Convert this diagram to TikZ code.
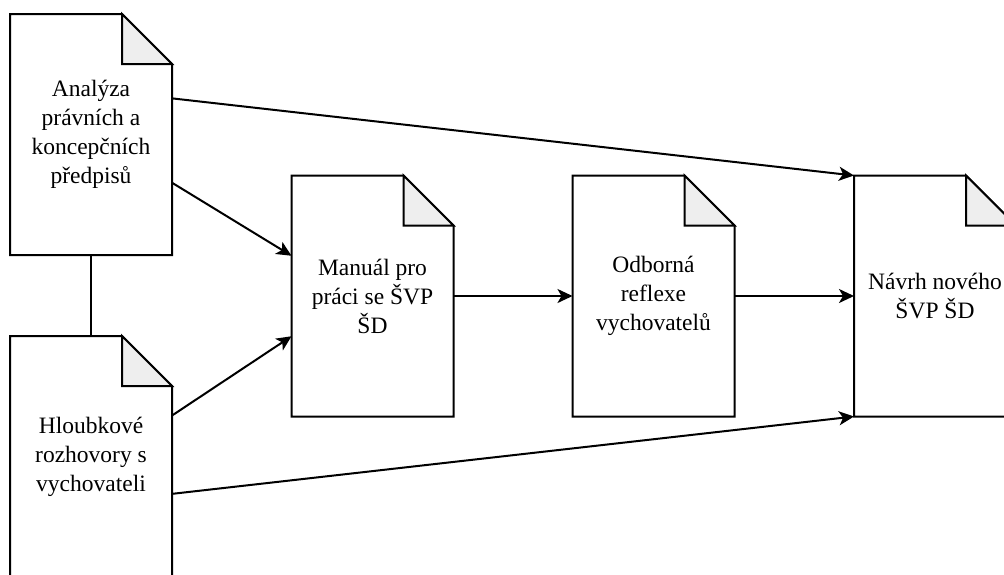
\documentclass[tikz,border=0pt]{standalone}
\usepackage{fontspec}
\setmainfont{Liberation Serif}
\usetikzlibrary{arrows.meta,calc}
\definecolor{foldgray}{HTML}{EEEEEE}
\tikzset{
  docbox/.style={rectangle, minimum width=162pt, minimum height=241pt, inner sep=0pt, outer sep=0pt,
    align=center, font=\fontsize{23.5}{29}\selectfont},
  docline/.style={line width=2pt, line join=miter, draw=black},
  conn/.style={line width=2pt, draw=black},
  arr/.style={conn, -{Stealth[length=15pt,width=14pt,inset=4pt]}},
}
\newcommand\drawdoc[1]{%
  \draw[docline] (#1.north west) -- ([xshift=-50pt]#1.north east) -- ([yshift=-50pt]#1.north east)
     -- (#1.south east) -- (#1.south west) -- cycle;
  \filldraw[docline, fill=foldgray] ([xshift=-50pt]#1.north east) -- ([xshift=-50pt,yshift=-50pt]#1.north east)
     -- ([yshift=-50pt]#1.north east) -- cycle;}
\begin{document}
\begin{tikzpicture}[x=1pt,y=-1pt]
\useasboundingbox (0,0) rectangle (1004,574);
\clip (0,0) rectangle (1004,574);
\fill[white] (0,0) rectangle (1004,574);
\node[docbox] (A) at (91,134.5) {Analýza\\právních a\\koncepčních\\předpisů};
\node[docbox] (B) at (91,456.5) {Hloubkové\\rozhovory s\\vychovateli};
\node[docbox] (C) at (372.5,296) {Manuál pro\\práci se ŠVP\\ŠD};
\node[docbox] (D) at (653.5,296) {Odborná\\reflexe\\vychovatelů};
\node[docbox] (E) at (935,296) {Návrh nového\\ŠVP ŠD};
\drawdoc{A}\drawdoc{B}\drawdoc{C}\drawdoc{D}\drawdoc{E}
\draw[conn] (A.south) -- (B.north);
\draw[arr] ($(A.north east)!0.35!(A.south east)$) -- (E.north west);
\draw[arr] ($(A.north east)!0.70!(A.south east)$) -- ($(C.north west)!0.333!(C.south west)$);
\draw[arr] ($(B.north east)!0.33!(B.south east)$) -- ($(C.north west)!0.667!(C.south west)$);
\draw[arr] ($(B.north east)!0.655!(B.south east)$) -- (E.south west);
\draw[arr] (C.east) -- (D.west);
\draw[arr] (D.east) -- (E.west);
\end{tikzpicture}
\end{document}
